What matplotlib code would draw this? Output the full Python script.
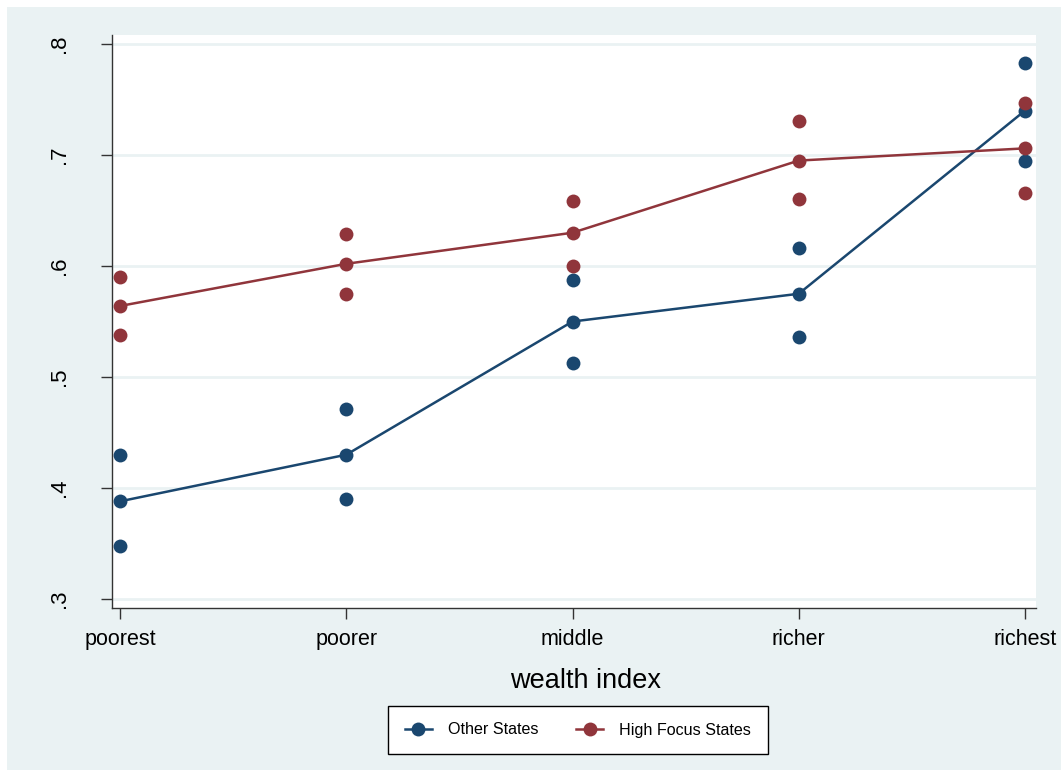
import matplotlib.pyplot as plt
from matplotlib.patches import Rectangle

plt.rcParams["font.family"] = ["Liberation Sans", "DejaVu Sans"]

# wealth quintiles and proportions for each state group
quintiles = ["poorest", "poorer", "middle", "richer", "richest"]

other_mean = [0.388, 0.430, 0.550, 0.575, 0.740]
other_high = [0.430, 0.471, 0.587, 0.616, 0.783]
other_low = [0.348, 0.390, 0.513, 0.536, 0.695]

focus_mean = [0.564, 0.602, 0.630, 0.695, 0.706]
focus_high = [0.590, 0.629, 0.659, 0.731, 0.747]
focus_low = [0.538, 0.575, 0.600, 0.660, 0.666]

yticks = [0.3, 0.4, 0.5, 0.6, 0.7, 0.8]
ytick_labels = [".3", ".4", ".5", ".6", ".7", ".8"]

navy = "#1A476F"
maroon = "#90353B"
bg = "#EAF2F3"

fig = plt.figure(figsize=(10.61, 7.70), dpi=100, facecolor="white")
fig.patches.append(Rectangle((7 / 1061, 0), 1, 1 - 7 / 770,
                             transform=fig.transFigure, facecolor=bg,
                             edgecolor="none", zorder=-10))

ax = fig.add_axes([0.1056, 0.2104, 0.8708, 0.7441])
ax.set_facecolor("white")

x = list(range(len(quintiles)))
for mean, hi, lo, col, lab in [
    (other_mean, other_high, other_low, navy, "Other States"),
    (focus_mean, focus_high, focus_low, maroon, "High Focus States"),
]:
    ax.plot(x, mean, color=col, lw=1.8, marker="o", ms=10,
            markeredgewidth=0, label=lab, zorder=3)
    ax.plot(x, hi, ls="none", marker="o", ms=10, color=col,
            markeredgewidth=0, zorder=3)
    ax.plot(x, lo, ls="none", marker="o", ms=10, color=col,
            markeredgewidth=0, zorder=3)

ax.set_xlim(-0.0354, 4.0486)
ax.set_ylim(0.2919, 0.8081)
ax.set_xticks(x)
ax.set_xticklabels(quintiles, fontsize=15.5)
ax.set_yticks(yticks)
ax.set_yticklabels(ytick_labels, fontsize=16, rotation=90, va="center")
ax.grid(axis="y", color=bg, lw=2)
ax.set_axisbelow(True)
for s in ["top", "right"]:
    ax.spines[s].set_visible(False)
for s in ["left", "bottom"]:
    ax.spines[s].set_color("#333333")
    ax.spines[s].set_linewidth(1.0)
ax.tick_params(axis="both", length=8, width=1, color="#333333")
ax.tick_params(axis="y", pad=22)
ax.tick_params(axis="x", pad=7)
ax.set_xlabel("wealth index", fontsize=19.5)
ax.xaxis.set_label_coords(0.513, -0.128, transform=ax.transAxes)
ax.xaxis.label.set_va("center")

leg = fig.legend(loc="center", bbox_to_anchor=(578 / 1061, 1 - 730 / 770),
                 ncol=2, fontsize=11.6, frameon=True, fancybox=False,
                 edgecolor="black", framealpha=1, facecolor="white",
                 handlelength=1.7, columnspacing=2.3,
                 borderpad=1.05, handletextpad=1.0, borderaxespad=0)
leg.get_frame().set_linewidth(1.0)

fig.savefig("out.png", dpi=100, facecolor=fig.get_facecolor())
